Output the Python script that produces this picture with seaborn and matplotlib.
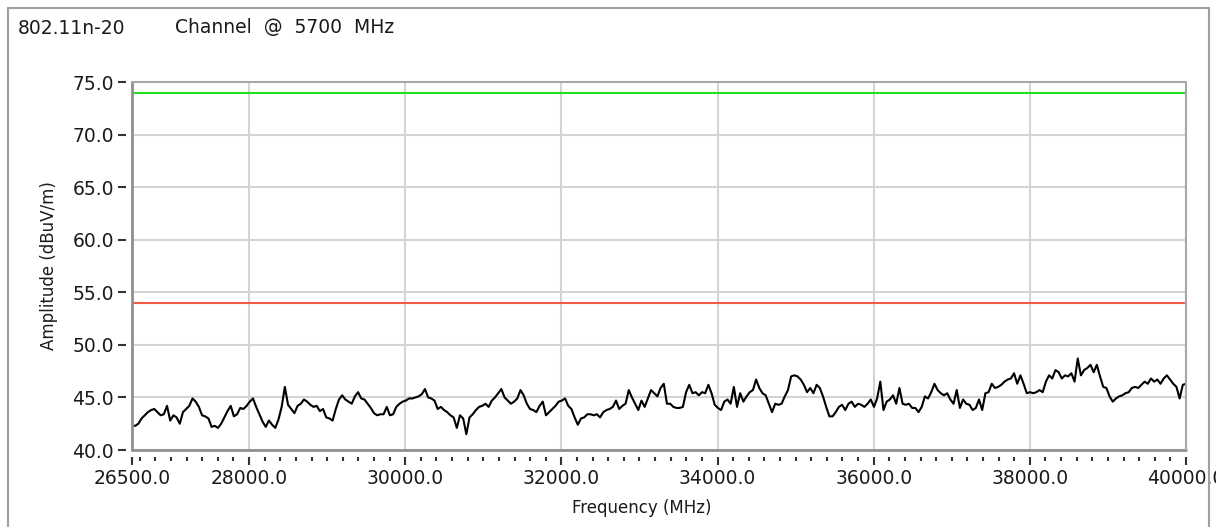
import numpy as np
import pandas as pd
import matplotlib
matplotlib.use("Agg")
import matplotlib.pyplot as plt
import seaborn as sns
from matplotlib.ticker import FixedLocator, MultipleLocator, FormatStrFormatter
from matplotlib.lines import Line2D

# ---- data ----
amp_seg1 = [42.3, 42.3, 42.5, 43.0, 43.3, 43.6, 43.8, 43.9, 43.6, 43.3, 43.4, 44.2, 42.8, 43.3, 43.1,
            42.5, 43.6, 43.9, 44.2, 44.9, 44.6, 44.1, 43.3, 43.2, 43.0, 42.2, 42.3, 42.1, 42.5, 43.1,
            43.7, 44.2, 43.2, 43.4, 44.0, 43.9, 44.2, 44.6, 44.9, 44.1, 43.4, 42.7, 42.2, 42.8, 42.4,
            42.1, 42.9, 44.1, 46.0, 44.3, 43.9, 43.5, 44.2, 44.4, 44.8, 44.6, 44.3, 44.1, 44.2, 43.7,
            43.9, 43.1, 43.0, 42.8, 43.9, 44.8, 45.2, 44.8, 44.6, 44.4, 45.1, 45.5, 44.9, 44.8, 44.4,
            44.0, 43.5, 43.3, 43.4, 43.4]
amp_seg2 = [44.1, 43.3, 43.4, 44.1, 44.4, 44.6, 44.7, 44.9, 44.9, 45.0, 45.1, 45.3, 45.8, 45.0, 44.9,
            44.7, 43.9, 44.1, 43.8, 43.6, 43.3, 43.1, 42.1, 43.3, 43.0, 41.5, 43.1, 43.4, 43.8, 44.1,
            44.2, 44.4, 44.1, 44.7, 45.0, 45.4, 45.8, 45.0, 44.7, 44.4, 44.6, 44.9, 45.7, 45.2, 44.4,
            43.9, 43.8, 43.6, 44.2, 44.6, 43.3, 43.6, 43.9, 44.2, 44.6, 44.7, 44.9, 44.2, 43.9, 43.1,
            42.4, 43.0, 43.1, 43.4, 43.4, 43.3, 43.4, 43.1, 43.6, 43.8, 43.9, 44.1, 44.7, 43.9, 44.2,
            44.4, 45.7, 45.0, 44.4, 43.8, 44.7, 44.1, 44.9, 45.7]
amp_seg3 = [45.4, 45.1, 45.9, 46.3, 44.4, 44.4, 44.1, 44.0, 44.0, 44.1, 45.5, 46.2, 45.4, 45.5, 45.2,
            45.5, 45.4, 46.2, 45.4, 44.3, 44.0, 43.8, 44.6, 44.8, 44.4, 46.0, 44.1, 45.4, 44.6, 45.1,
            45.5, 45.7, 46.7, 45.9, 45.4, 45.2, 44.4, 43.6, 44.4, 44.3, 44.4, 45.1, 45.7, 47.0, 47.1,
            47.0, 46.7, 46.2, 45.5, 45.9, 45.4, 46.2, 45.9, 45.1, 44.1, 43.2, 43.2, 43.6, 44.1, 44.3,
            43.8, 44.4, 44.6, 44.1, 44.4, 44.3, 44.1, 44.4, 44.8, 44.1, 44.9, 46.5, 43.8, 44.6, 44.8,
            45.2, 44.4, 45.9, 44.4, 44.3, 44.4, 44.0, 44.0, 43.6, 44.1]
amp_seg4 = [45.1, 44.9, 45.5, 46.3, 45.7, 45.4, 45.2, 45.4, 44.8, 44.4, 45.7, 44.0, 44.8, 44.4, 44.3,
            43.8, 44.0, 44.8, 43.8, 45.4, 45.5, 46.3, 45.9, 46.0, 46.2, 46.5, 46.7, 46.8, 47.3, 46.3,
            47.1, 46.3, 45.4, 45.5, 45.4, 45.5, 45.7, 45.5, 46.5, 47.1, 46.8, 47.6, 47.4, 46.8, 47.1,
            47.0, 47.3, 46.5, 48.7, 47.1, 47.6, 47.8, 48.1, 47.4, 48.1, 47.0, 46.0, 45.9, 45.1, 44.6,
            44.9, 45.1, 45.2, 45.4, 45.5, 45.9, 46.0, 45.9, 46.2, 46.5, 46.3, 46.8, 46.5, 46.7, 46.3,
            46.8, 47.1, 46.7, 46.3, 46.0, 44.9, 46.2, 46.3]
amplitude = amp_seg1 + amp_seg2 + amp_seg3 + amp_seg4

freq_start = 26500.0
freq_stop = 40000.0
frequency = np.linspace(freq_start, freq_stop, len(amplitude))

limit_peak = 74.0
limit_avg = 54.0

x_ticks = [26500, 28000, 30000, 32000, 34000, 36000, 38000, 40000]
y_ticks = [40, 45, 50, 55, 60, 65, 70, 75]
y_min, y_max = 40, 75

title_mode = "802.11n-20"
title_channel = "Channel  @  5700  MHz"
x_label = "Frequency (MHz)"
y_label = "Amplitude (dBuV/m)"

# ---- drawing ----
sns.set_style("white")
plt.rcParams['font.family'] = ['DejaVu Sans']

W, H = 1216, 527
fig = plt.figure(figsize=(W / 100, H / 100), dpi=100)
fig.patch.set_facecolor("white")

L, R, T, B = 132, 1186, 82, 450
ax = fig.add_axes([L / W, 1 - B / H, (R - L) / W, (B - T) / H])

df = pd.DataFrame({"Frequency": frequency, "Amplitude": amplitude})
sns.lineplot(data=df, x="Frequency", y="Amplitude", ax=ax, color="black", lw=1.5, zorder=3)
ax.axhline(limit_peak, color="#22dd22", lw=1.5, zorder=3)
ax.axhline(limit_avg, color="#f05a48", lw=1.5, zorder=3)

ax.set_xlim(freq_start, freq_stop)
ax.set_ylim(y_min, y_max)

ax.xaxis.set_major_locator(FixedLocator(x_ticks))
ax.xaxis.set_minor_locator(MultipleLocator(200))
ax.yaxis.set_major_locator(FixedLocator(y_ticks))
ax.xaxis.set_major_formatter(FormatStrFormatter("%.1f"))
ax.yaxis.set_major_formatter(FormatStrFormatter("%.1f"))

for s in ax.spines.values():
    s.set_visible(False)
ax.spines['left'].set_position(('outward', 4))
ax.spines['bottom'].set_position(('outward', 5))

ax.tick_params(axis='y', which='major', direction='out', left=True, length=6, width=1.5,
               color='#333333', labelsize=13.5, pad=3, labelcolor='#1a1a1a')
ax.tick_params(axis='x', which='major', direction='out', bottom=True, length=6, width=1.5,
               color='#333333', labelsize=13.5, pad=3, labelcolor='#1a1a1a')
ax.tick_params(axis='x', which='minor', direction='out', bottom=True, length=3, width=1.5,
               color='#333333')

ax.grid(True, which='major', color='#d4d4d4', lw=1.5)
ax.set_axisbelow(True)

# plot border
ax.add_line(Line2D([0, 0], [0, 1], transform=ax.transAxes, color='#909090', lw=2, clip_on=False, zorder=4))
ax.add_line(Line2D([0, 1], [0, 0], transform=ax.transAxes, color='#909090', lw=2, clip_on=False, zorder=4))
ax.add_line(Line2D([0, 1], [1, 1], transform=ax.transAxes, color='#a8a8a8', lw=1.5, clip_on=False, zorder=4))
ax.add_line(Line2D([1, 1], [0, 1], transform=ax.transAxes, color='#a8a8a8', lw=1.5, clip_on=False, zorder=4))

ax.set_xlabel(x_label, fontsize=12, color='#1a1a1a')
ax.xaxis.set_label_coords((642 - L) / (R - L), -0.133)
ax.set_ylabel(y_label, fontsize=12, color='#1a1a1a', labelpad=10)

# outer frame
fx0, fx1, fy0 = 8 / W, 1209 / W, 1 - 8 / H
fig.add_artist(Line2D([fx0, fx0], [0, fy0], transform=fig.transFigure, color='#a0a0a0', lw=1.5))
fig.add_artist(Line2D([fx0, fx1], [fy0, fy0], transform=fig.transFigure, color='#a0a0a0', lw=1.5))
fig.add_artist(Line2D([fx1, fx1], [0, fy0], transform=fig.transFigure, color='#a0a0a0', lw=1.5))

fig.text(18 / W, 1 - 28 / H, title_mode, fontsize=13.5, color='#1a1a1a', ha='left', va='center')
fig.text(175 / W, 1 - 28 / H, title_channel, fontsize=13.5, color='#1a1a1a', ha='left', va='center')

fig.savefig("out.png", dpi=100, facecolor="white")
